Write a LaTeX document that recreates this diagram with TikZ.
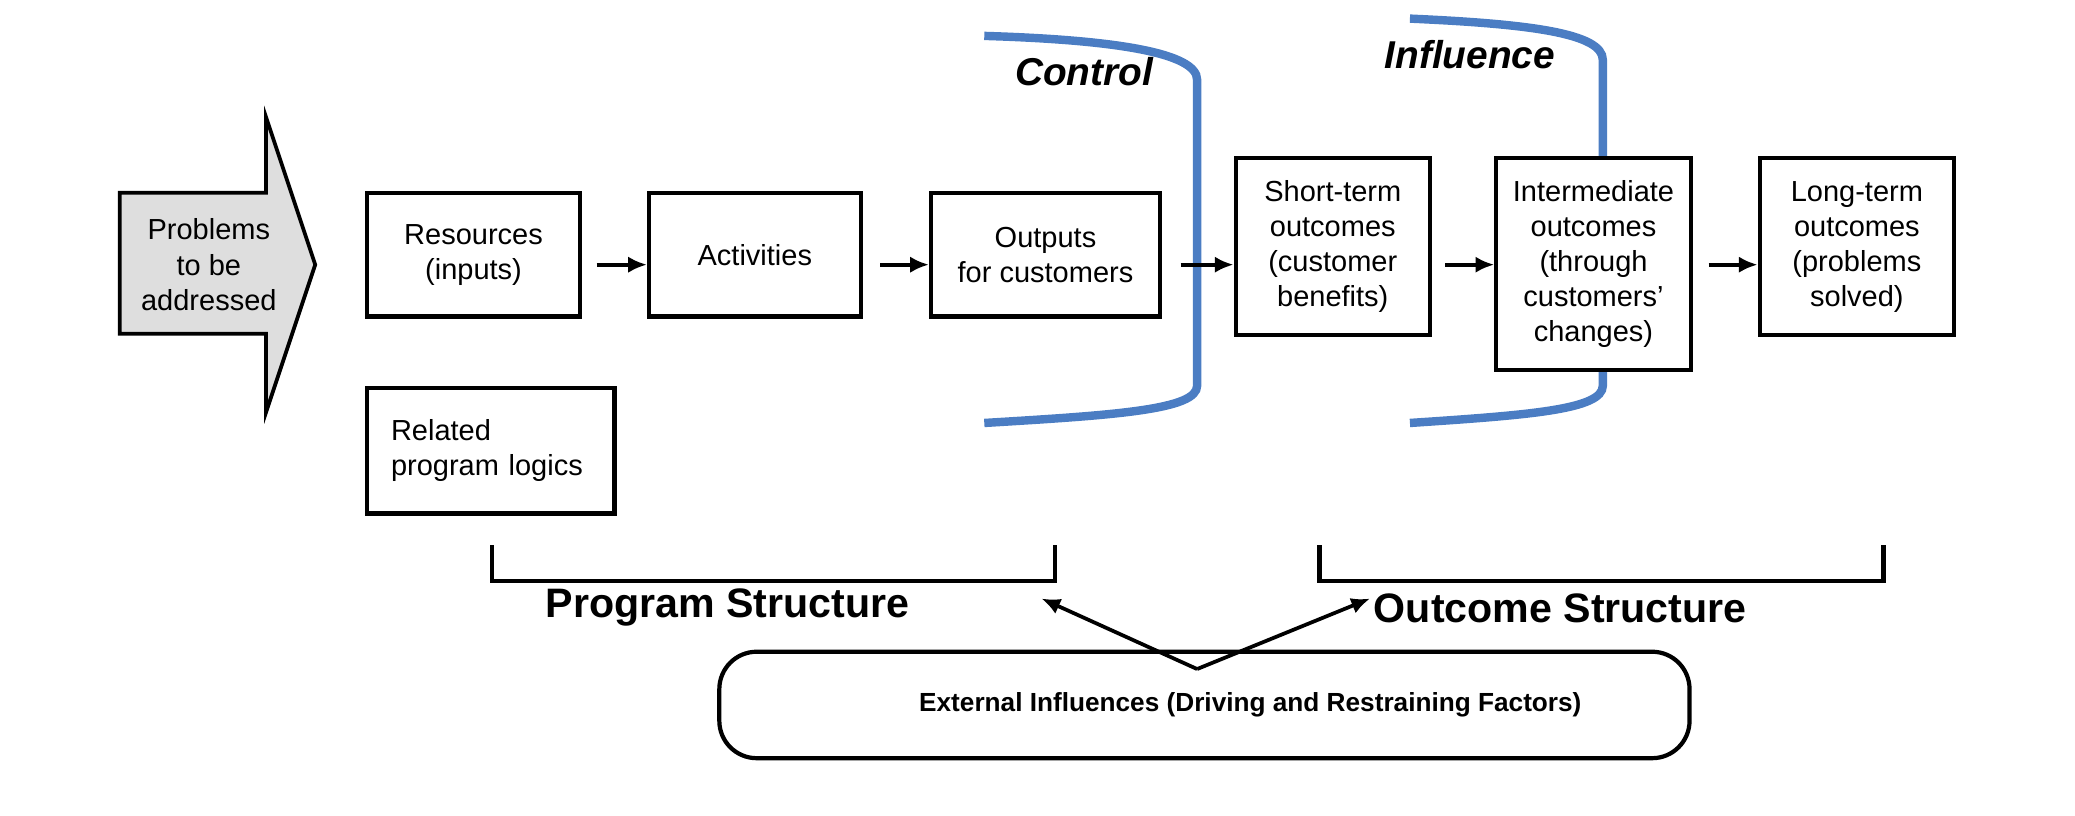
\documentclass[tikz,border=0pt]{standalone}
\usepackage{fontspec}
\setmainfont{Liberation Sans}
\usetikzlibrary{arrows.meta}
\definecolor{bl}{RGB}{75,125,195}
\begin{document}
\begin{tikzpicture}[x=0.01cm,y=-0.01cm,
  box/.style={draw,line width=0.9pt,fill=white,align=center,inner sep=0pt,font=\fontsize{6.2}{7.5}\selectfont},
  arr/.style={-{Latex[length=4pt,width=3.5pt]},line width=0.8pt},
  blue/.style={draw=bl,line width=1.8pt}]
\useasboundingbox (0,0) rectangle (1560,613);
% problem arrow
\draw[line width=0.8pt,fill=black!13] (90,145) -- (200,145) -- (200,88) -- (237,199) -- (200,310) -- (200,251) -- (90,251) -- cycle;
\node[align=center,font=\fontsize{6.2}{7.5}\selectfont] (probt) at (157,199) {Problems\\to be\\addressed};
% blue brackets
\draw[blue] (740,27) .. controls (840,30) and (900,40) .. (900,60) -- (900,290) .. controls (900,308) and (840,312) .. (740,318);
\draw[blue] (1060,14) .. controls (1150,18) and (1205,25) .. (1205,45) -- (1205,290) .. controls (1205,308) and (1150,312) .. (1060,318);
\node[font=\bfseries\itshape\fontsize{8.3}{10}\selectfont] (ctl) at (815,54) {Control};
\node[font=\bfseries\itshape\fontsize{8.3}{10}\selectfont] (inf) at (1105,41) {Influence};
% boxes
\node[box,minimum width=1.60cm,minimum height=0.93cm] (res) at (356,191.5) {Resources\\(inputs)};
\node[box,minimum width=1.59cm,minimum height=0.93cm] (act) at (567.5,191.5) {Activities};
\node[box,minimum width=1.72cm,minimum height=0.93cm] (out) at (786,191.5) {Outputs\\for customers};
\node[box,minimum width=1.46cm,minimum height=1.33cm] (st) at (1002,185.5) {Short-term\\outcomes\\(customer\\benefits)};
\node[box,minimum width=1.46cm,minimum height=1.59cm] (im) at (1198,198.5) {Intermediate\\outcomes\\(through\\customers'\\changes)};
\node[box,minimum width=1.46cm,minimum height=1.33cm] (lt) at (1396,185.5) {Long-term\\outcomes\\(problems\\solved)};
\node[box,minimum width=1.86cm,minimum height=0.94cm,align=left,text width=1.5cm] (rel) at (369,339) {Related\\program logics};
% arrows
\coordinate (r) at (0,199);
\draw[arr] ([xshift=0.11cm]res.east |- r) -- (act.west |- r);
\draw[arr] ([xshift=0.13cm]act.east |- r) -- (out.west |- r);
\draw[arr] ([xshift=0.14cm]out.east |- r) -- (st.west |- r);
\draw[arr] ([xshift=0.10cm]st.east |- r) -- (im.west |- r);
\draw[arr] ([xshift=0.12cm]im.east |- r) -- (lt.west |- r);
% structure brackets
\draw[line width=0.9pt] (370,410) -- (370,437) -- (793,437) -- (793,410);
\draw[line width=0.9pt] (992,410) -- (992,437) -- (1416,437) -- (1416,410);
\node[font=\bfseries\fontsize{8.8}{10}\selectfont] (ps) at (547,457) {Program Structure};
\node[font=\bfseries\fontsize{8.8}{10}\selectfont] (os) at (1173,457) {Outcome Structure};
% external
\node[draw,line width=0.9pt,rounded corners=8pt,minimum width=7.29cm,minimum height=0.80cm,inner sep=0pt] (ext) at (905.5,530) {};
\node[font=\bfseries\fontsize{5.6}{7}\selectfont] (extt) at (940,530) {External Influences (Driving and Restraining Factors)};
\coordinate (v) at (900,503);
\draw[arr] (v) -- (783,450);
\draw[arr] (v) -- (1030,450);
\end{tikzpicture}
\end{document}
